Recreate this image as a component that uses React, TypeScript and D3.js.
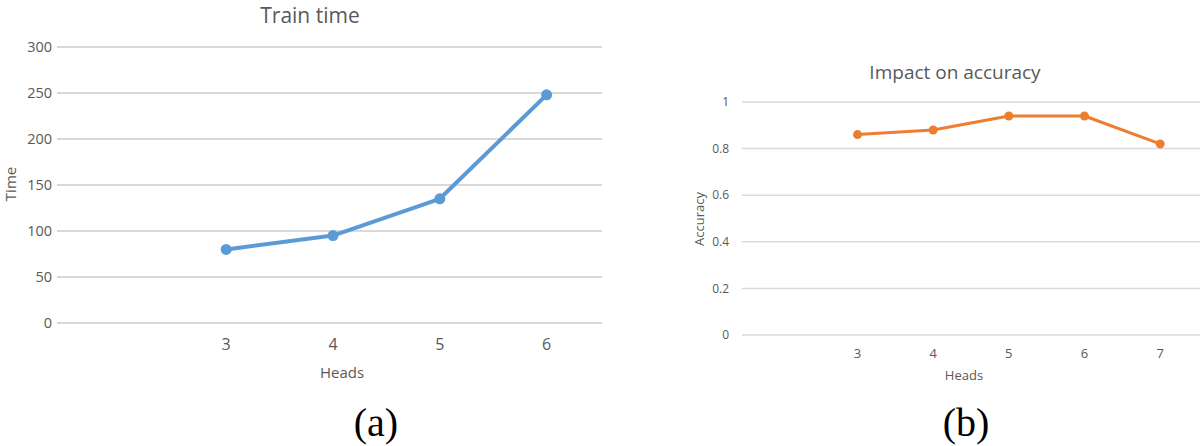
import React from "react";
import * as d3 from "d3";

const headsA = ["", "3", "4", "5", "6"];
const timeValues = [null, 80, 95, 135, 248];
const timeTicks = [0, 50, 100, 150, 200, 250, 300];

const headsB = ["", "3", "4", "5", "6", "7"];
const accValues = [null, 0.86, 0.88, 0.94, 0.94, 0.82];
const accTicks = [0, 0.2, 0.4, 0.6, 0.8, 1];

const FONT = "'Open Sans', 'Noto Sans', sans-serif";
const GRAY = "#595959";

type PanelProps = {
  cats: string[];
  values: (number | null)[];
  ticks: number[];
  yMax: number;
  xRange: [number, number];
  yRange: [number, number];
  gridX: [number, number];
  color: string;
  lineW: number;
  r: number;
  title: string;
  titleX: number;
  titleY: number;
  titleSize: number;
  tickSize: number;
  xTickSize: number;
  tickX: number;
  xLabelY: number;
  yLabel: string;
  yLabelX: number;
  yLabelY: number;
  xTitleX: number;
  xTitleY: number;
  labelSize: number;
  gridW: number;
  fmt: (v: number) => string;
};

function Panel(p: PanelProps) {
  const x = d3.scaleBand<string>().domain(p.cats).range(p.xRange);
  const y = d3.scaleLinear().domain([0, p.yMax]).range(p.yRange);
  const pts = p.cats
    .map((c, i) => ({ c, v: p.values[i] }))
    .filter((d) => d.v !== null) as { c: string; v: number }[];
  const line = d3
    .line<{ c: string; v: number }>()
    .x((d) => (x(d.c) as number) + x.bandwidth() / 2)
    .y((d) => y(d.v));
  return (
    <g>
      <text x={p.titleX} y={p.titleY} textAnchor="middle" fontSize={p.titleSize} fill={GRAY} fontFamily={FONT}>
        {p.title}
      </text>
      {p.ticks.map((t) => (
        <g key={t}>
          <line x1={p.gridX[0]} x2={p.gridX[1]} y1={y(t)} y2={y(t)} stroke="#d9d9d9" strokeWidth={p.gridW} />
          <text x={p.tickX} y={y(t)} dy="0.35em" textAnchor="end" fontSize={p.tickSize} fill={GRAY} fontFamily={FONT}>
            {p.fmt(t)}
          </text>
        </g>
      ))}
      {p.cats.filter((c) => c !== "").map((c) => (
        <text key={c} x={(x(c) as number) + x.bandwidth() / 2} y={p.xLabelY} dy="0.35em" textAnchor="middle" fontSize={p.xTickSize} fill={GRAY} fontFamily={FONT}>
          {c}
        </text>
      ))}
      <text x={p.xTitleX} y={p.xTitleY} dy="0.35em" textAnchor="middle" fontSize={p.labelSize} fill={GRAY} fontFamily={FONT}>
        Heads
      </text>
      <text transform={`translate(${p.yLabelX},${p.yLabelY}) rotate(-90)`} dy="0.35em" textAnchor="middle" fontSize={p.labelSize} fill={GRAY} fontFamily={FONT}>
        {p.yLabel}
      </text>
      <path d={line(pts) || ""} fill="none" stroke={p.color} strokeWidth={p.lineW} strokeLinejoin="round" strokeLinecap="round" />
      {pts.map((d) => (
        <circle key={d.c} cx={(x(d.c) as number) + x.bandwidth() / 2} cy={y(d.v)} r={p.r} fill={p.color} />
      ))}
    </g>
  );
}

export default function App() {
  return (
    <svg width={1200} height={446} style={{ position: "absolute", left: 0, top: 0, background: "#fff" }}>
      <rect width={1200} height={446} fill="#fff" />
      <Panel
        cats={headsA}
        values={timeValues}
        ticks={timeTicks}
        yMax={300}
        xRange={[66, 600]}
        yRange={[323, 47]}
        gridX={[57, 602]}
        color="#5B9BD5"
        lineW={4}
        r={5.5}
        title="Train time"
        titleX={310}
        titleY={23}
        titleSize={21}
        tickSize={14.5}
        xTickSize={16}
        tickX={52}
        xLabelY={344}
        yLabel="Time"
        yLabelX={11}
        yLabelY={184}
        xTitleX={342}
        xTitleY={373}
        labelSize={15}
        gridW={2}
        fmt={(v) => String(v)}
      />
      <Panel
        cats={headsB}
        values={accValues}
        ticks={accTicks}
        yMax={1}
        xRange={[744, 1198]}
        yRange={[335, 102]}
        gridX={[742, 1200]}
        color="#ED7D31"
        lineW={3}
        r={4.5}
        title="Impact on accuracy"
        titleX={955}
        titleY={79}
        titleSize={19}
        tickSize={12}
        xTickSize={13}
        tickX={729}
        xLabelY={353}
        yLabel="Accuracy"
        yLabelX={699}
        yLabelY={219}
        xTitleX={964}
        xTitleY={375}
        labelSize={13}
        gridW={1.5}
        fmt={(v) => String(v)}
      />
      <text x={376} y={436} textAnchor="middle" fontSize={40} fontFamily="'Liberation Serif', 'Times New Roman', serif" fill="#000">
        (a)
      </text>
      <text x={966} y={436} textAnchor="middle" fontSize={40} fontFamily="'Liberation Serif', 'Times New Roman', serif" fill="#000">
        (b)
      </text>
    </svg>
  );
}
